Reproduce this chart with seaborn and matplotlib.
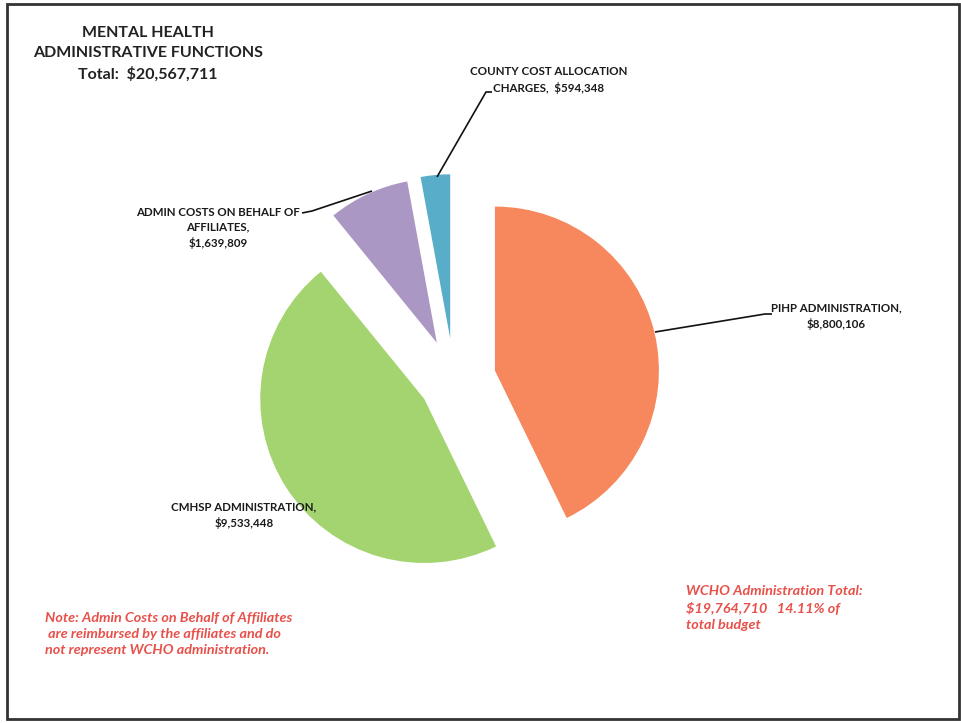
import matplotlib
matplotlib.use("Agg")
import matplotlib.pyplot as plt
import seaborn as sns
from matplotlib.patches import Rectangle

# Mental health administrative functions (dollars)
categories = [
    "PIHP ADMINISTRATION,",
    "CMHSP ADMINISTRATION,",
    "ADMIN COSTS ON BEHALF OF\nAFFILIATES,",
    "COUNTY COST ALLOCATION\nCHARGES,",
]
values = [8800106, 9533448, 1639809, 594348]
total_label = "Total:  $20,567,711"
colors = ["#F7875C", "#A3D46F", "#AB97C3", "#58ADC8"]
explode_frac = [0.256, 0.215, 0.25, 0.255]

sns.set_style("white")
plt.rcParams["font.family"] = ["Lato", "DejaVu Sans"]

W, H = 962, 723
fig = plt.figure(figsize=(W / 100, H / 100), dpi=100)
ax = fig.add_axes([0, 0, 1, 1])


def px(x, y):
    """Convert pixel position (origin top-left) to axes data coordinates."""
    return x, H - y


R = 164
cx, cy = px(454, 380)
# pie explode offsets are absolute, so scale them by the radius
wedges, _ = ax.pie(
    values,
    colors=colors,
    startangle=90,
    counterclock=False,
    explode=[e * R for e in explode_frac],
    center=(cx, cy),
    radius=R,
    wedgeprops=dict(linewidth=0),
)
ax.set_xlim(0, W)
ax.set_ylim(0, H)
ax.set_aspect("equal")
ax.axis("off")

# outer frame
ax.add_patch(Rectangle(px(7, 719), 952, 715, fill=False, edgecolor="#333333",
                       linewidth=2.0, zorder=5))

dark = "#1a1a1a"
lab_kw = dict(fontsize=8.3, fontweight="bold", color=dark, ha="center",
              va="center", linespacing=1.45)


def fmt(v):
    return "${:,.0f}".format(v)


# title
ax.text(*px(148, 54), "MENTAL HEALTH\nADMINISTRATIVE FUNCTIONS\n" + total_label,
        fontsize=11.5, fontweight="bold", color="#222222", ha="center",
        va="center", linespacing=1.55)

# leader lines
def leader(points):
    xs, ys = zip(*[px(x, y) for x, y in points])
    ax.plot(xs, ys, color="#111111", linewidth=1.2, solid_capstyle="butt")

leader([(655, 332), (765, 314), (772, 314)])
leader([(372, 191), (312, 211), (302, 213)])
leader([(437, 177), (486, 92), (492, 92)])

# slice labels
ax.text(*px(836, 316), categories[0] + "\n" + fmt(values[0]), **lab_kw)
ax.text(*px(244, 515), categories[1] + "\n" + fmt(values[1]), **lab_kw)
ax.text(*px(218, 228), categories[2] + "\n" + fmt(values[2]), **lab_kw)
ax.text(*px(549, 80), categories[3] + "  " + fmt(values[3]), **lab_kw)

red = "#E8504A"
note_kw = dict(fontsize=10.4, fontweight="bold", fontstyle="italic", color=red,
               ha="left", va="center", linespacing=1.42)
ax.text(*px(45, 634),
        "Note: Admin Costs on Behalf of Affiliates\n are reimbursed by the affiliates and do\nnot represent WCHO administration.",
        **note_kw)
ax.text(*px(686, 608),
        "WCHO Administration Total:\n$19,764,710   14.11% of\ntotal budget",
        **note_kw)

fig.savefig("out.png", dpi=100, facecolor="white")
